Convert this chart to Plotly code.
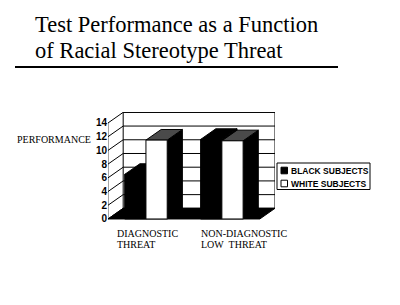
import plotly.graph_objects as go

# ---- data ----
categories = ["DIAGNOSTIC THREAT", "NON-DIAGNOSTIC LOW THREAT"]
category_lines = [["DIAGNOSTIC", "THREAT"], ["NON-DIAGNOSTIC", "LOW\u00a0 THREAT"]]
series_names = ["BLACK SUBJECTS", "WHITE SUBJECTS"]
black_subjects = [6.5, 11.6]
white_subjects = [11.5, 11.4]
y_ticks = [0, 2, 4, 6, 8, 10, 12, 14]
title_lines = ["Test Performance as a Function", "of Racial Stereotype Threat"]
y_title = "PERFORMANCE"

# ---- layout constants ----
W, H = 400, 305
L, T = 108, 112
PW, PH = 167, 108
BAR_W = 0.28
DX, DY = 0.2, 1.55          # depth offset of the pseudo-3D projection
XR = [-0.5, 1.7]
YR = [-0.15, 15.6]
YMAX = max(y_ticks)

def px(xp):
    return (xp - L) / PW

def py(yp):
    return 1 - (yp - T) / PH

serif = "Liberation Serif, Times New Roman, serif"
sans = "Liberation Sans, Arial, sans-serif"

shapes = []
line_k = dict(color="black", width=1)
x_front0 = -0.5
x_front1 = len(categories) - 0.5

# back wall
shapes.append(dict(type="rect", xref="x", yref="y", x0=x_front0 + DX, x1=x_front1 + DX,
                   y0=DY, y1=YMAX + DY, fillcolor="white", line=line_k, layer="below"))
for v in y_ticks:
    # back wall gridline
    shapes.append(dict(type="line", xref="x", yref="y", x0=x_front0 + DX, x1=x_front1 + DX,
                       y0=v + DY, y1=v + DY, line=line_k, layer="below"))
    # side wall diagonal
    shapes.append(dict(type="line", xref="x", yref="y", x0=x_front0, x1=x_front0 + DX,
                       y0=v, y1=v + DY, line=line_k, layer="below"))
# side wall front edge
shapes.append(dict(type="line", xref="x", yref="y", x0=x_front0, x1=x_front0,
                   y0=0, y1=YMAX, line=dict(color="black", width=0.7), layer="below"))
# floor
shapes.append(dict(type="path", xref="x", yref="y",
                   path=f"M{x_front0},0 L{x_front1},0 L{x_front1 + DX},{DY} L{x_front0 + DX},{DY} Z",
                   fillcolor="black", line=line_k, layer="below"))

# side and top faces of each bar, left to right
series = [(black_subjects, -BAR_W, "black", "black"),
          (white_subjects, 0.0, "white", "#4a4a4a")]
for i in range(len(categories)):
    for vals, off, front, topc in series:
        v = vals[i]
        x0 = i + off
        x1 = x0 + BAR_W
        shapes.append(dict(type="path", xref="x", yref="y",
                           path=f"M{x1},0 L{x1},{v} L{x1 + DX},{v + DY} L{x1 + DX},{DY} Z",
                           fillcolor="black", line=line_k, layer="below"))
        shapes.append(dict(type="path", xref="x", yref="y",
                           path=f"M{x0},{v} L{x1},{v} L{x1 + DX},{v + DY} L{x0 + DX},{v + DY} Z",
                           fillcolor=topc, line=line_k, layer="below"))

fig = go.Figure()
fig.add_trace(go.Bar(x=list(range(len(categories))), y=black_subjects, name=series_names[0],
                     offset=-BAR_W, width=BAR_W, marker=dict(color="black", line=line_k),
                     showlegend=False, hovertext=categories))
fig.add_trace(go.Bar(x=list(range(len(categories))), y=white_subjects, name=series_names[1],
                     offset=0, width=BAR_W, marker=dict(color="white", line=line_k),
                     showlegend=False, hovertext=categories))

# title underline
shapes.append(dict(type="line", xref="paper", yref="paper", x0=px(15), x1=px(338),
                   y0=py(67), y1=py(67), line=dict(color="black", width=2)))

# legend (drawn manually for compact rows)
shapes.append(dict(type="rect", xref="paper", yref="paper", x0=px(277), x1=px(370),
                   y0=py(163), y1=py(189.5), fillcolor="white", line=line_k))
leg_rows = [170.5, 183.5]
leg_fill = ["black", "white"]
annotations = []
for name, yc, fc in zip(series_names, leg_rows, leg_fill):
    shapes.append(dict(type="rect", xref="paper", yref="paper", x0=px(281), x1=px(287.5),
                       y0=py(yc - 3.3), y1=py(yc + 3.3), fillcolor=fc, line=line_k))
    annotations.append(dict(text=name, xref="paper", yref="paper", x=px(289), y=py(yc),
                            xanchor="left", yanchor="middle", showarrow=False,
                            font=dict(family=sans, size=8.5, color="black", weight="bold")))

# title
for txt, yc in zip(title_lines, [24, 50]):
    annotations.append(dict(text=txt, xref="paper", yref="paper", x=px(33), y=py(yc),
                            xanchor="left", yanchor="middle", showarrow=False,
                            font=dict(family=serif, size=22.5, color="black")))
# y title
annotations.append(dict(text=y_title, xref="paper", yref="paper", x=px(15), y=py(139),
                        xanchor="left", yanchor="middle", showarrow=False,
                        font=dict(family=serif, size=10, color="black")))
# category labels
cat_left_px = [115, 199]
for lines, xl in zip(category_lines, cat_left_px):
    for j, ln in enumerate(lines):
        annotations.append(dict(text=ln, xref="paper", yref="paper", x=px(xl), y=py(233 + 11.5 * j),
                                xanchor="left", yanchor="middle", showarrow=False,
                                font=dict(family=serif, size=10, color="black")))

fig.update_layout(
    width=W, height=H, autosize=False,
    margin=dict(l=L, r=W - L - PW, t=T, b=H - T - PH, pad=0),
    paper_bgcolor="white", plot_bgcolor="rgba(0,0,0,0)",
    barmode="overlay", showlegend=False,
    shapes=shapes, annotations=annotations,
    xaxis=dict(range=XR, showgrid=False, zeroline=False, showline=False,
               showticklabels=False, ticks="", fixedrange=True),
    yaxis=dict(range=YR, tickvals=y_ticks, ticktext=[str(v) for v in y_ticks],
               showgrid=False, zeroline=False, showline=False, ticks="",
               tickfont=dict(family=sans, size=10, color="black", weight="bold"),
               fixedrange=True),
)

fig.write_html("out.html")
